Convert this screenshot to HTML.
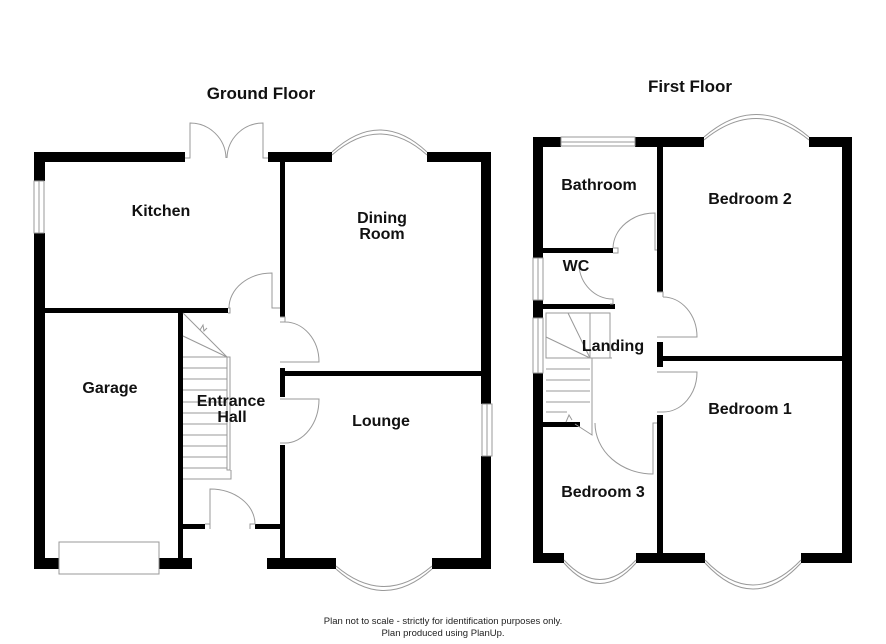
<!DOCTYPE html>
<html><head><meta charset="utf-8"><style>
html,body{margin:0;padding:0;background:#fff}
svg{display:block}
text{font-family:"Liberation Sans",Arial,sans-serif;font-weight:bold;fill:#111;text-anchor:middle}
.f{font-weight:normal;font-size:9.5px;fill:#222}
.t{stroke:#999;stroke-width:1;fill:none}
.w{fill:#000}
.win{fill:#fff;stroke:#999;stroke-width:1}
</style></head><body>
<svg width="886" height="644" viewBox="0 0 886 644" xmlns="http://www.w3.org/2000/svg">
<text x="261" y="99" font-size="17">Ground Floor</text>
<text x="690" y="92" font-size="17">First Floor</text>

<!-- GROUND FLOOR -->
<g class="w">
<rect x="34" y="152" width="151" height="10"/>
<rect x="268" y="152" width="64" height="10"/>
<rect x="427" y="152" width="64" height="10"/>
<rect x="481" y="152" width="10" height="252"/>
<rect x="481" y="456" width="10" height="113"/>
<rect x="34" y="152" width="11" height="29"/>
<rect x="34" y="233" width="11" height="336"/>
<rect x="34" y="558" width="25" height="11"/>
<rect x="159" y="558" width="33" height="11"/>
<rect x="267" y="558" width="69" height="11"/>
<rect x="432" y="558" width="59" height="11"/>
<rect x="45" y="308" width="183" height="5"/>
<rect x="178" y="313" width="5" height="245"/>
<rect x="280" y="162" width="5" height="155"/>
<rect x="280" y="368" width="5" height="29"/>
<rect x="280" y="445" width="5" height="113"/>
<rect x="285" y="371" width="196" height="5"/>
<rect x="183" y="524" width="22" height="5"/>
<rect x="255" y="524" width="25" height="5"/>
</g>
<rect class="win" x="34" y="181" width="10" height="52"/>
<line class="t" x1="39" y1="181" x2="39" y2="233"/>
<rect class="win" x="482" y="404" width="10" height="52"/>
<line class="t" x1="487" y1="404" x2="487" y2="456"/>
<rect class="win" x="59" y="542" width="100" height="32"/>
<!-- bays -->
<path class="t" d="M332 152 Q380 108 427 152"/>
<path class="t" d="M332 155 Q380 113 427 155"/>
<path class="t" d="M336 569 Q384 612 432 569"/>
<path class="t" d="M336 566 Q384 607 432 566"/>
<!-- french doors -->
<path class="t" d="M185 158 h5 V123 A36 36 0 0 1 226 158"/>
<path class="t" d="M268 158 h-5 V123 A36 36 0 0 0 227 158"/>
<!-- kitchen door -->
<path class="t" d="M228 308 h2 v5 h-2 M229 308 A43 35 0 0 1 272 273 V308 h8"/>
<!-- dining door -->
<path class="t" d="M280 317 h5 v5 h-5 M285 322 A34 40 0 0 1 319 362 H280"/>
<!-- lounge door -->
<path class="t" d="M280 399 H319 A34 44 0 0 1 285 443 h-5"/>
<!-- front door -->
<path class="t" d="M205 524 h5 v5 M210 524 V489 A45 35 0 0 1 255 524 h-5 v5"/>
<!-- stairs -->
<g class="t">
<line x1="183" y1="313" x2="227" y2="357"/>
<line x1="183" y1="336" x2="227" y2="357"/>
<path d="M200 330 l3 -5 l1 6 l3 -3"/>
<rect x="227" y="357" width="3" height="113"/>
<path d="M183 479 H231 V470"/>
<line x1="183" y1="357" x2="227" y2="357"/>
<line x1="183" y1="368" x2="227" y2="368"/>
<line x1="183" y1="379" x2="227" y2="379"/>
<line x1="183" y1="390" x2="227" y2="390"/>
<line x1="183" y1="402" x2="227" y2="402"/>
<line x1="183" y1="413" x2="227" y2="413"/>
<line x1="183" y1="424" x2="227" y2="424"/>
<line x1="183" y1="435" x2="227" y2="435"/>
<line x1="183" y1="446" x2="227" y2="446"/>
<line x1="183" y1="457" x2="227" y2="457"/>
<line x1="183" y1="468" x2="227" y2="468"/>
</g>
<text x="161" y="216" font-size="16">Kitchen</text>
<text x="382" y="223" font-size="16">Dining</text>
<text x="382" y="239" font-size="16">Room</text>
<text x="110" y="393" font-size="16">Garage</text>
<text x="231" y="406" font-size="16">Entrance</text>
<text x="232" y="422" font-size="16">Hall</text>
<text x="381" y="426" font-size="16">Lounge</text>

<!-- FIRST FLOOR -->
<g class="w">
<rect x="533" y="137" width="28" height="10"/>
<rect x="635" y="137" width="69" height="10"/>
<rect x="809" y="137" width="43" height="10"/>
<rect x="842" y="137" width="10" height="426"/>
<rect x="533" y="137" width="10" height="121"/>
<rect x="533" y="300" width="10" height="18"/>
<rect x="533" y="373" width="10" height="190"/>
<rect x="533" y="553" width="31" height="10"/>
<rect x="636" y="553" width="69" height="10"/>
<rect x="801" y="553" width="51" height="10"/>
<rect x="657" y="147" width="6" height="145"/>
<rect x="657" y="342" width="6" height="25"/>
<rect x="657" y="415" width="6" height="140"/>
<rect x="663" y="356" width="179" height="5"/>
<rect x="543" y="248" width="70" height="5"/>
<rect x="543" y="304" width="72" height="5"/>
<rect x="543" y="422" width="37" height="5"/>
</g>
<rect class="win" x="561" y="137" width="74" height="9"/>
<line class="t" x1="561" y1="142" x2="635" y2="142"/>
<rect class="win" x="533" y="258" width="10" height="42"/>
<line class="t" x1="538" y1="258" x2="538" y2="300"/>
<rect class="win" x="533" y="318" width="10" height="55"/>
<line class="t" x1="538" y1="318" x2="538" y2="373"/>
<path class="t" d="M704 137 Q756 92 809 137"/>
<path class="t" d="M704 140 Q756 97 809 140"/>
<path class="t" d="M705 563 Q753 615 801 563"/>
<path class="t" d="M705 560 Q753 610 801 560"/>
<path class="t" d="M564 563 Q600 604 636 563"/>
<path class="t" d="M564 560 Q600 599 636 560"/>
<!-- doors -->
<path class="t" d="M613 248 h5 v5 h-5 M613 248 A42 36 0 0 1 655 213 V250 h2"/>
<path class="t" d="M579 265 A34 36 0 0 0 613 299 v5 h-3"/>
<path class="t" d="M657 292 h6 v5 M663 297 A34 40 0 0 1 697 337 H657"/>
<path class="t" d="M657 372 H697 A34 40 0 0 1 663 412 h-6"/>
<path class="t" d="M595 423 A58 51 0 0 0 653 474 V423 h4"/>
<!-- stairs -->
<g class="t">
<rect x="546" y="313" width="64" height="45"/>
<line x1="568" y1="313" x2="590" y2="358"/>
<line x1="590" y1="313" x2="590" y2="358"/>
<line x1="546" y1="337" x2="590" y2="358"/>
<line x1="590" y1="358" x2="612" y2="358"/>
<path d="M592 358 V435 L575 424"/>
<line x1="546" y1="369" x2="590" y2="369"/>
<line x1="546" y1="380" x2="590" y2="380"/>
<line x1="546" y1="391" x2="590" y2="391"/>
<line x1="546" y1="402" x2="590" y2="402"/>
<line x1="546" y1="412" x2="567" y2="412"/>
<path d="M566 422 l3 -7 l3 5"/>
</g>
<text x="599" y="190" font-size="16">Bathroom</text>
<text x="750" y="204" font-size="16">Bedroom 2</text>
<text x="576" y="271" font-size="16">WC</text>
<text x="613" y="351" font-size="16">Landing</text>
<text x="750" y="414" font-size="16">Bedroom 1</text>
<text x="603" y="497" font-size="16">Bedroom 3</text>

<text class="f" x="443" y="624">Plan not to scale - strictly for identification purposes only.</text>
<text class="f" x="443" y="636">Plan produced using PlanUp.</text>
</svg>
</body></html>
